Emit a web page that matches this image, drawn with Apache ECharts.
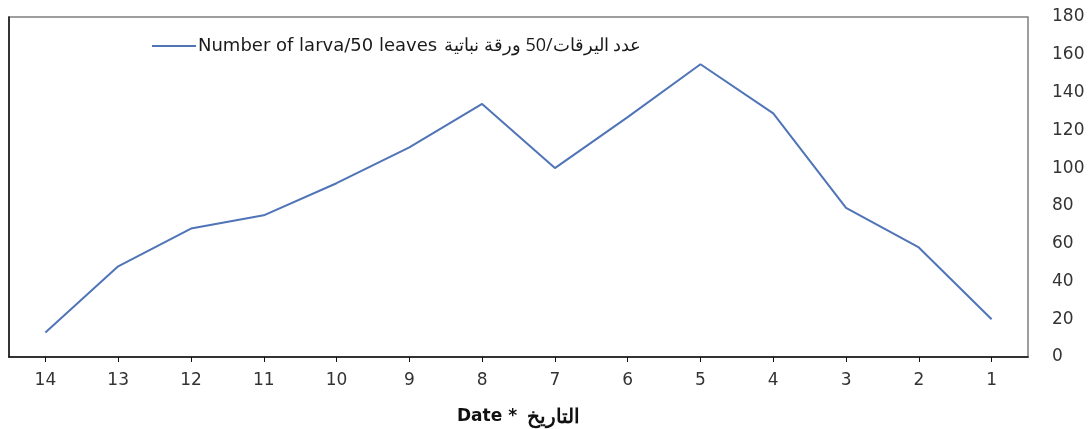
<!DOCTYPE html>
<html>
<head>
<meta charset="utf-8">
<script src="https://cdn.jsdelivr.net/npm/echarts@6/dist/echarts.min.js"></script>
<style>
  html, body { margin: 0; padding: 0; background: #ffffff; }
  #chart { width: 1091px; height: 429px; }
</style>
</head>
<body>
<div id="chart"></div>
<script>
// Sampling dates, shown from 14 down to 1
const dates = ['14', '13', '12', '11', '10', '9', '8', '7', '6', '5', '4', '3', '2', '1'];
// Larvae counted per 50 leaves
const larvaCounts = [13, 48, 68, 75, 92, 111, 134, 100, 127, 155, 129, 79, 58, 20];
const seriesNameEn = 'Number of larva/50 leaves';
const seriesNameAr = 'عدد اليرقات/50 ورقة نباتية';
const seriesName = seriesNameEn + ' ' + seriesNameAr;
const axisTitleEn = 'Date *';
const axisTitleAr = 'التاريخ';

const LATIN = '"DejaVu Sans", sans-serif';
const ARABIC = '"Open Sans", sans-serif';
const LINE_COLOR = '#4f74b8';

const chart = echarts.init(document.getElementById('chart'), null, { renderer: 'canvas' });
chart.setOption({
  animation: false,
  backgroundColor: '#ffffff',
  textStyle: { fontFamily: LATIN },
  grid: {
    left: 9, right: 63, top: 17, bottom: 72,
    containLabel: false,
    outerBoundsMode: 'none',
    show: true, borderColor: '#7f7f7f', borderWidth: 1.5, backgroundColor: 'transparent'
  },
  legend: {
    left: 147, top: 32,
    icon: 'rect',
    itemWidth: 44, itemHeight: 2, itemGap: 10,
    itemStyle: { color: LINE_COLOR },
    formatter: () => '{en|' + seriesNameEn + '}{ar|' + seriesNameAr + '}',
    textStyle: {
      padding: [0, 0, 0, -3],
      rich: {
        en: { fontFamily: LATIN, fontSize: 18, color: '#1a1a1a' },
        ar: { fontFamily: ARABIC, fontSize: 18, color: '#1a1a1a', padding: [0, 0, 0, 7] }
      }
    },
    data: [{ name: seriesName }]
  },
  xAxis: {
    type: 'category',
    data: dates,
    boundaryGap: true,
    axisLine: { show: true, lineStyle: { color: '#111111', width: 1.5 } },
    axisTick: { show: true, alignWithLabel: true, length: 5, lineStyle: { color: '#111111' } },
    axisLabel: { fontFamily: LATIN, fontSize: 17, color: '#333333', margin: 15 },
    splitLine: { show: false },
    name: '{en|' + axisTitleEn + '}{ar|' + axisTitleAr + '}',
    nameLocation: 'middle',
    nameGap: 50,
    nameTextStyle: {
      rich: {
        en: { fontFamily: LATIN, fontSize: 17, fontWeight: 'bold', color: '#111111' },
        ar: { fontFamily: ARABIC, fontSize: 20, fontWeight: 'bold', color: '#111111', padding: [0, 0, 0, 10] }
      }
    }
  },
  yAxis: [
    {
      type: 'value',
      position: 'right',
      min: 0, max: 180, interval: 20,
      axisLine: { show: false },
      axisTick: { show: false },
      splitLine: { show: false },
      axisLabel: { fontFamily: LATIN, fontSize: 17, color: '#333333', margin: 24, align: 'left' }
    },
    {
      type: 'value',
      position: 'left',
      min: 0, max: 180, interval: 20,
      axisLine: { show: true, lineStyle: { color: '#111111', width: 1.5 } },
      axisTick: { show: false },
      axisLabel: { show: false },
      splitLine: { show: false }
    }
  ],
  series: [
    {
      name: seriesName,
      type: 'line',
      yAxisIndex: 0,
      data: larvaCounts,
      symbol: 'none',
      smooth: false,
      lineStyle: { color: LINE_COLOR, width: 2 },
      itemStyle: { color: LINE_COLOR }
    }
  ]
});
</script>
</body>
</html>
